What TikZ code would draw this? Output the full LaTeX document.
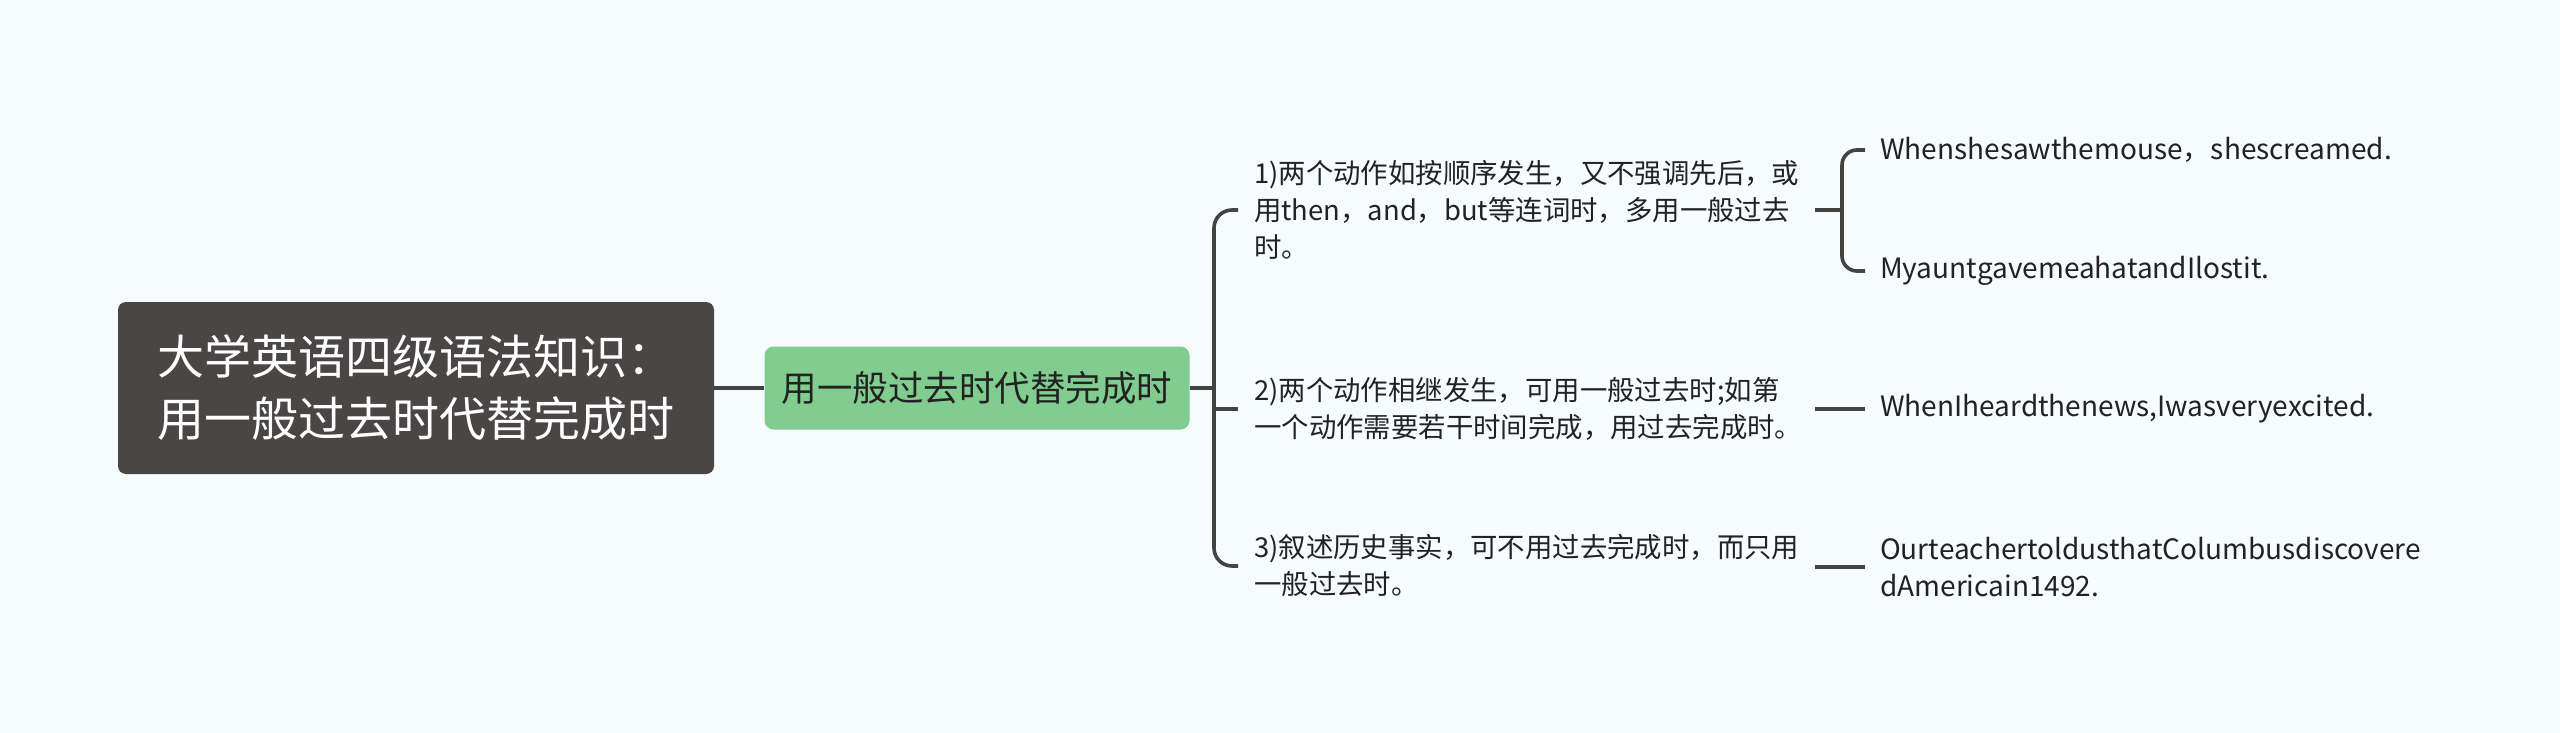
\documentclass[tikz,border=0pt]{standalone}
\usepackage{fontspec}
\setmainfont{Noto Sans CJK SC}
\usetikzlibrary{calc}
\definecolor{bgc}{HTML}{F6FBFD}
\definecolor{rootc}{HTML}{4A4646}
\definecolor{greenc}{HTML}{80CD8F}
\definecolor{linec}{HTML}{454242}
\definecolor{txtc}{HTML}{222222}
\tikzset{
  conn/.style={draw=linec, line width=3.6pt},
  rootbox/.style={fill=rootc, rounded corners=8pt, text=white, minimum width=596pt, minimum height=172pt, align=left, inner sep=0pt, font=\fontsize{47}{62}\selectfont},
  greenbox/.style={fill=greenc, rounded corners=9pt, text=txtc, minimum width=425pt, minimum height=83pt, inner sep=0pt, font=\fontsize{35.5}{40}\selectfont},
  leaftxt/.style={anchor=west, inner sep=0pt, align=left, text=txtc, font=\fontsize{27.4}{37}\selectfont},
  extxt/.style={leaftxt, font=\fontsize{28}{37}\selectfont},
}
\begin{document}
\begin{tikzpicture}[x=1pt,y=-1pt]
\fill[bgc] (0,0) rectangle (2560,733);
\useasboundingbox (0,0) rectangle (2560,733);
\node[rootbox] (root) at (416,388) {大学英语四级语法知识：\\用一般过去时代替完成时};
\node[greenbox] (sub) at (977,388) {用一般过去时代替完成时};
\node[leaftxt] (t1) at (1254,210) {1)两个动作如按顺序发生，又不强调先后，或\\用then，and，but等连词时，多用一般过去\\时。};
\node[leaftxt] (t2) at (1254,409) {2)两个动作相继发生，可用一般过去时;如第\\一个动作需要若干时间完成，用过去完成时。};
\node[leaftxt] (t3) at (1254,566) {3)叙述历史事实，可不用过去完成时，而只用\\一般过去时。};
\node[extxt] (e1) at (1880,150) {Whenshesawthemouse，shescreamed.};
\node[extxt] (e2) at (1880,271) {MyauntgavemeahatandIlostit.};
\node[extxt] (e3) at (1880,409) {WhenIheardthenews,Iwasveryexcited.};
\node[extxt] (e4) at (1880,567) {OurteachertoldusthatColumbusdiscovere\\dAmericain1492.};
% level 1 connectors
\draw[conn] (root.east) -- (sub.west);
\coordinate (b0) at (1214,388);
\draw[conn] (sub.east) -- (b0);
\draw[conn, rounded corners=18pt] ($(t1.west)+(-16,0)$) -| (b0) |- ($(t3.west)+(-16,0)$);
\draw[conn] (b0 |- t2.west) -- ($(t2.west)+(-16,0)$);
% level 2 connectors
\coordinate (c1) at (1815,210);
\coordinate (k1) at (1842,210);
\draw[conn] (c1) -- (k1);
\draw[conn, rounded corners=15pt] ($(e1.west)+(-15,0)$) -| (k1) |- ($(e2.west)+(-15,0)$);
\coordinate (c2) at (1815,409);
\draw[conn] (c2) -- ($(e3.west)+(-15,0)$);
\coordinate (c3) at (1815,567);
\draw[conn] (c3) -- ($(e4.west)+(-15,0)$);
\end{tikzpicture}
\end{document}
